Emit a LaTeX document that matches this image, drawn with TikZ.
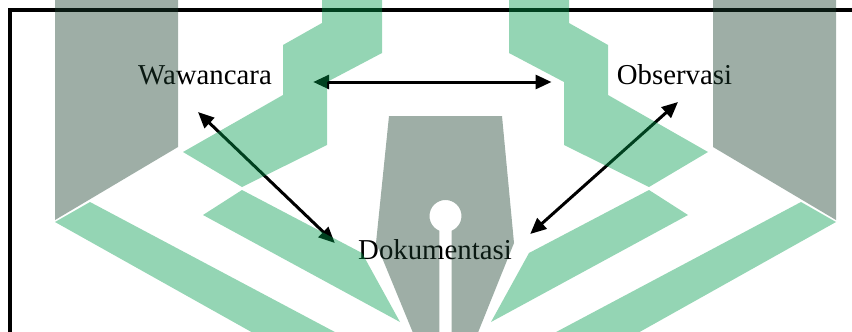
\documentclass[tikz,border=0pt]{standalone}
\usepackage{fontspec}
\setmainfont{Liberation Serif}
\usetikzlibrary{arrows.meta}

\definecolor{logogreen}{RGB}{0,156,76}
\definecolor{logogray}{RGB}{24,61,43}

\tikzset{
    method/.style={anchor=base, inner sep=0pt, font=\fontsize{14.4}{17}\selectfont},
    link/.style={{Triangle[length=8pt,width=7pt]}-{Triangle[length=8pt,width=7pt]}, line width=1.5pt},
    logo/.style={fill opacity=0.42}
}

\begin{document}
\begin{tikzpicture}[x=0.5pt, y=-0.5pt]
    \useasboundingbox (0,0) rectangle (852,332);
    \clip (0,0) rectangle (852,332);

    % frame
    \draw[line width=2pt] (9.5,345) -- (9.5,9.5) -- (860,9.5);

    % the three methods
    \node[method] (waw) at (205,84) {Wawancara};
    \node[method] (obs) at (674.5,84) {Observasi};
    \node[method] (dok) at (435,259) {Dokumentasi};

    \draw[link] ([shift={(41,-2)}]waw.base east) -- ([shift={(-65,-2)}]obs.base west);
    \draw[link] ([shift={(-7,28)}]waw.base) -- ([shift={(-23,-16)}]dok.base west);
    \draw[link] ([shift={(18,-25)}]dok.base east) -- ([shift={(3.5,18)}]obs.base);

    % logo over everything
    \begin{scope}[logo]
        \foreach \s in {1,-1} {
            \begin{scope}[shift={({445.5-445.5*\s},0)}, xscale=\s]
                \fill[logogray] (55,-5) -- (178,-5) -- (178,147) -- (55,220) -- cycle;
                \fill[logogreen] (322,-5) -- (382,-5) -- (382,53) -- (327,82) -- (327,145)
                    -- (242,187) -- (183,152) -- (283,95) -- (283,45) -- (322,23) -- cycle;
                \fill[logogreen] (203,215) -- (242,190) -- (362,253) -- (400,322) -- cycle;
                \fill[logogreen] (55,222) -- (90,202) -- (365,348) -- (280,348) -- cycle;
            \end{scope}
        }
        % pen nib
        \fill[logogray] (389,116) -- (502,116) -- (514,243) -- (473,345) -- (451.5,345)
            -- (451.5,230.8) arc[start angle=67.9, end angle=-247.9, radius=16]
            -- (439.5,345) -- (418,345) -- (376,243) -- cycle;
    \end{scope}
\end{tikzpicture}
\end{document}
